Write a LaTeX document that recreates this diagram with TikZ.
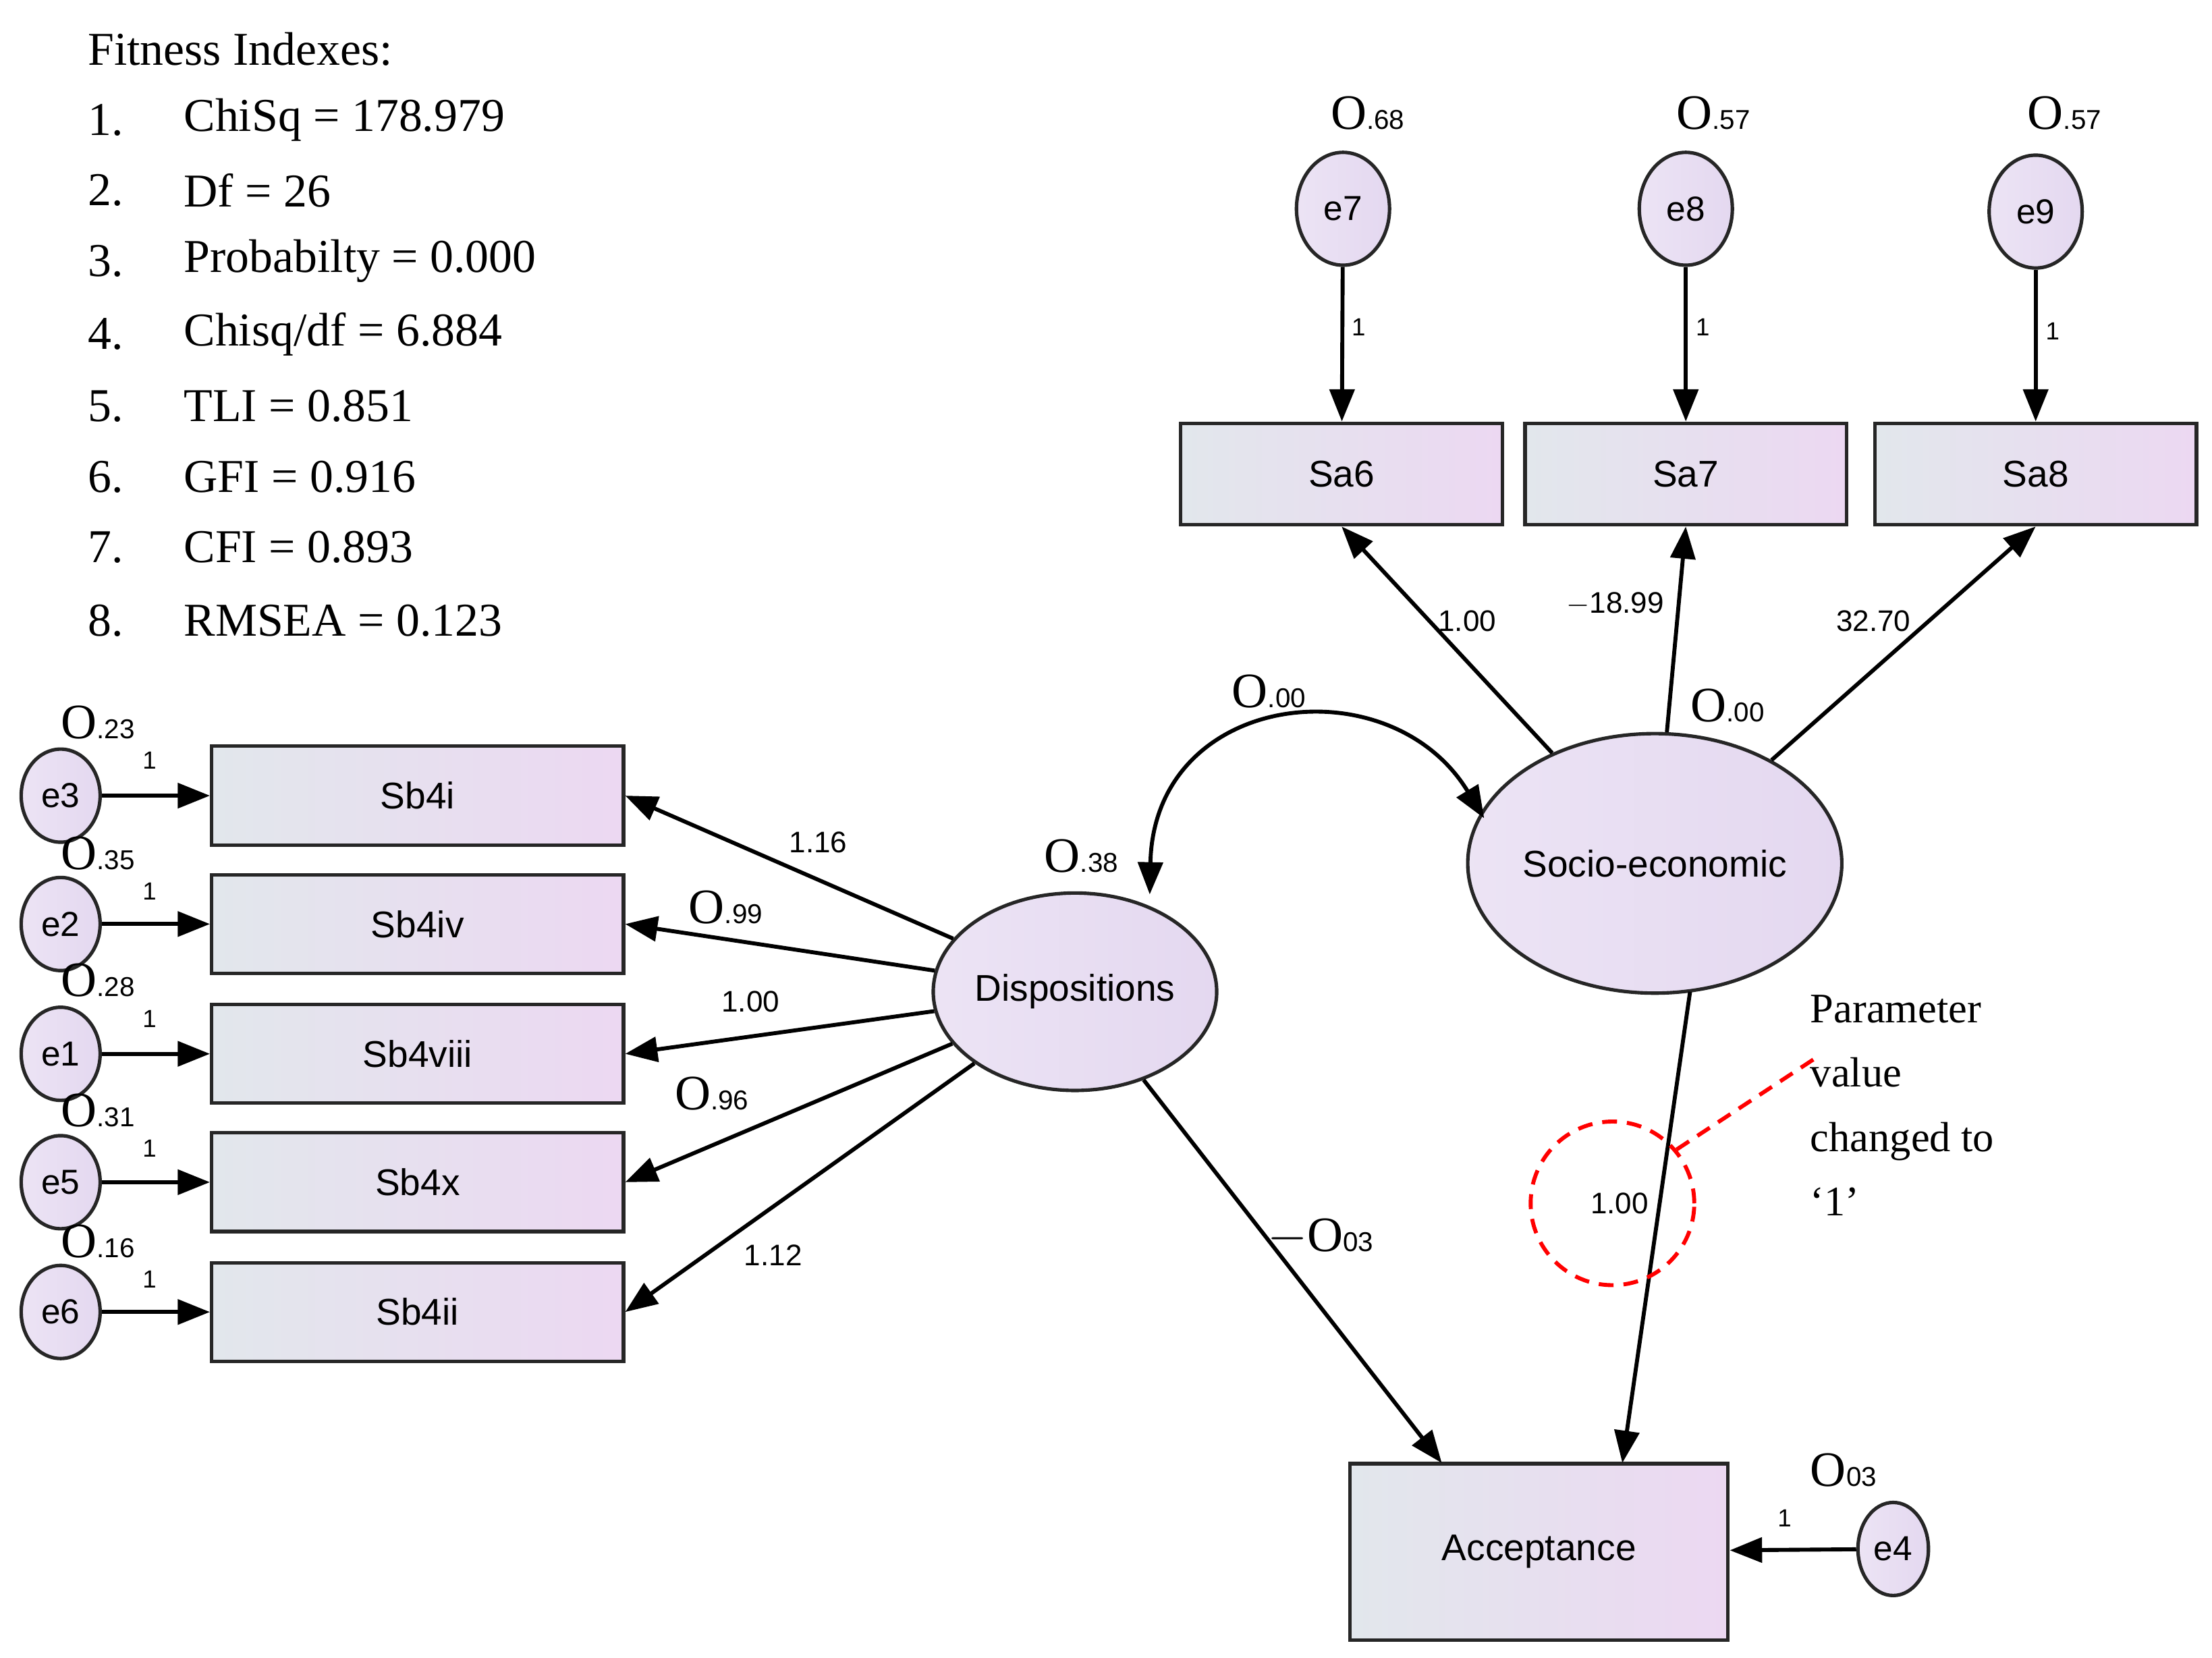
\documentclass[tikz,border=0pt]{standalone}
\usepackage{fontspec}
\setmainfont{Liberation Serif}
\setsansfont{Liberation Sans}
\usetikzlibrary{arrows.meta,shapes.geometric}
\definecolor{gl}{RGB}{226,231,236}
\definecolor{gr}{RGB}{236,216,242}
\definecolor{lav}{RGB}{228,216,240}
\newcommand\vlab[1]{{\fontsize{20}{20}\selectfont\rmfamily O}{\sffamily\fontsize{11}{11}\selectfont #1}}
\begin{document}
\begin{tikzpicture}[x=0.02cm,y=-0.02cm,
  box/.style={draw=black!85,line width=1.4pt,left color=gl,right color=gr,font=\sffamily\fontsize{15}{15}\selectfont,inner sep=0},
  lat/.style={ellipse,draw=black!85,line width=1.4pt,left color=lav!70!white,right color=lav,font=\sffamily\fontsize{15}{15}\selectfont,inner sep=0},
  err/.style={lat,font=\sffamily\fontsize{14}{14}\selectfont},
  arr/.style={line width=1.6pt,-{Triangle[length=13pt,width=10pt]}},
  lb/.style={font=\sffamily\fontsize{12}{12}\selectfont,inner sep=1pt},
  one/.style={font=\sffamily\fontsize{10}{10}\selectfont,inner sep=1pt},
  fit/.style={font=\rmfamily\fontsize{19}{19}\selectfont,anchor=west,inner sep=0}]
\useasboundingbox[fill=white] (0,0) rectangle (1568,1175);
% fitness
\node[fit] (ft) at (62,35) {Fitness Indexes:};
\foreach \i/\t [count=\k] in {85/{ChiSq = 178.979},135/{Df = 26},185/{Probabilty = 0.000},237/{Chisq{/}df = 6.884},288/{TLI = 0.851},338/{GFI = 0.916},388/{CFI = 0.893},440/{RMSEA = 0.123}}{
  \node[fit] (fn\k) at (62,\i) {\k.};
  \node[fit] (ftx\k) at (130,\i) {\t};
}
% top
\node[err,minimum width=1.32cm,minimum height=1.6cm] (e7) at (952,148) {e7};
\node[err,minimum width=1.32cm,minimum height=1.6cm] (e8) at (1195,148) {e8};
\node[err,minimum width=1.32cm,minimum height=1.6cm] (e9) at (1443,150) {e9};
\node[anchor=west,inner sep=0] (ve7) at (943,80) {\vlab{.68}};
\node[anchor=west,inner sep=0] (ve8) at (1188,80) {\vlab{.57}};
\node[anchor=west,inner sep=0] (ve9) at (1437,80) {\vlab{.57}};
\node[box,minimum width=4.56cm,minimum height=1.44cm] (sa6) at (951,336) {Sa6};
\node[box,minimum width=4.56cm,minimum height=1.44cm] (sa7) at (1195,336) {Sa7};
\node[box,minimum width=4.56cm,minimum height=1.44cm] (sa8) at (1443,336) {Sa8};
\node[lat,minimum width=5.2cm,minimum height=3.68cm] (soc) at (1173,612) {Socio-economic};
\node[lat,minimum width=4cm,minimum height=2.8cm] (dis) at (762,703) {Dispositions};
\node[box,minimum width=5.36cm,minimum height=2.5cm] (acc) at (1091,1100) {Acceptance};
\node[err,minimum width=1.0cm,minimum height=1.32cm] (e4) at (1342,1098) {e4};
\foreach \n/\e/\y in {sbi/e3/564,sbiv/e2/655,sbviii/e1/747,sbx/e5/838,sbii/e6/930}{
  \node[err,minimum width=1.12cm,minimum height=1.32cm] (\e) at (43,\y) {\e};
}
\node[box,minimum width=5.84cm,minimum height=1.4cm] (sbi) at (296,564) {Sb4i};
\node[box,minimum width=5.84cm,minimum height=1.4cm] (sbiv) at (296,655) {Sb4iv};
\node[box,minimum width=5.84cm,minimum height=1.4cm] (sbviii) at (296,747) {Sb4viii};
\node[box,minimum width=5.84cm,minimum height=1.4cm] (sbx) at (296,838) {Sb4x};
\node[box,minimum width=5.84cm,minimum height=1.4cm] (sbii) at (296,930) {Sb4ii};
% arrows
\draw[arr] (e7) -- (sa6);
\draw[arr] (e8) -- (sa7);
\draw[arr] (e9) -- (sa8);
\draw[arr] (soc) -- (sa6.south);
\draw[arr] (soc) -- (sa7.south);
\draw[arr] (soc) -- (sa8.south);
\foreach \e/\r in {e3/sbi,e2/sbiv,e1/sbviii,e5/sbx,e6/sbii}{\draw[arr] (\e) -- (\r);}
\foreach \r in {sbi,sbiv,sbviii,sbx,sbii}{\draw[arr] (dis) -- (\r.east);}
\coordinate (a1) at (1022,1037);
\coordinate (a2) at (1150,1037);
\coordinate (ss) at (1198,703);
\draw[arr] (dis) -- (a1);
\draw[arr] (ss) -- (a2);
\draw[arr] (e4) -- (acc);
\coordinate (c1) at (815,634);
\coordinate (c2) at (1052,580);
\draw[line width=1.6pt,{Triangle[length=13pt,width=10pt]}-{Triangle[length=13pt,width=10pt]}] (c1) .. controls (818,490) and (985,470) .. (c2);
% labels
\node[one] (l7) at (963,232) {1};
\node[one] (l8) at (1207,232) {1};
\node[one] (l9) at (1455,235) {1};
\node[lb] (p1) at (1040,440) {1.00};
\node[lb] (p2) at (1145,428) {$-$18.99};
\node[lb] (p3) at (1328,440) {32.70};
\node[anchor=west,inner sep=0] (v1) at (873,490) {\vlab{.00}};
\node[anchor=west,inner sep=0] (v2) at (1198,500) {\vlab{.00}};
\node[anchor=west,inner sep=0] (v3) at (740,607) {\vlab{.38}};
\foreach \v/\y [count=\k] in {.23/512,.35/605,.28/695,.31/787,.16/880}{
  \node[anchor=west,inner sep=0] (ve\k) at (43,\y) {\vlab{\v}};
  \node[one] (oe\k) at (106,\y+27) {1};
}
\node[lb] (q1) at (580,597) {1.16};
\node[anchor=west,inner sep=0] (q2) at (488,643) {\vlab{.99}};
\node[lb] (q3) at (532,710) {1.00};
\node[anchor=west,inner sep=0] (q4) at (478,775) {\vlab{.96}};
\node[lb] (q5) at (548,890) {1.12};
\node[anchor=west,inner sep=0] (q6) at (898,877) {\rmfamily\fontsize{20}{20}\selectfont$-$\vlab{03}};
\node[lb] (q7) at (1148,853) {1.00};
\node[anchor=west,inner sep=0] (v4) at (1283,1042) {\vlab{03}};
\node[one] (l4) at (1265,1076) {1};
% annotation
\node[draw=red,dashed,line width=1.6pt,circle,minimum size=2.32cm,dash pattern=on 6pt off 4pt] (rc) at (1143,853) {};
\coordinate (rl) at (1290,748);
\draw[red,dashed,line width=1.6pt,dash pattern=on 6pt off 4pt] (rc.40) -- (rl);
\node[fit,align=left,anchor=north west,font=\rmfamily\fontsize{17}{26}\selectfont] (ann) at (1283,705) {Parameter\\value\\changed to\\‘1’};
\end{tikzpicture}
\end{document}
